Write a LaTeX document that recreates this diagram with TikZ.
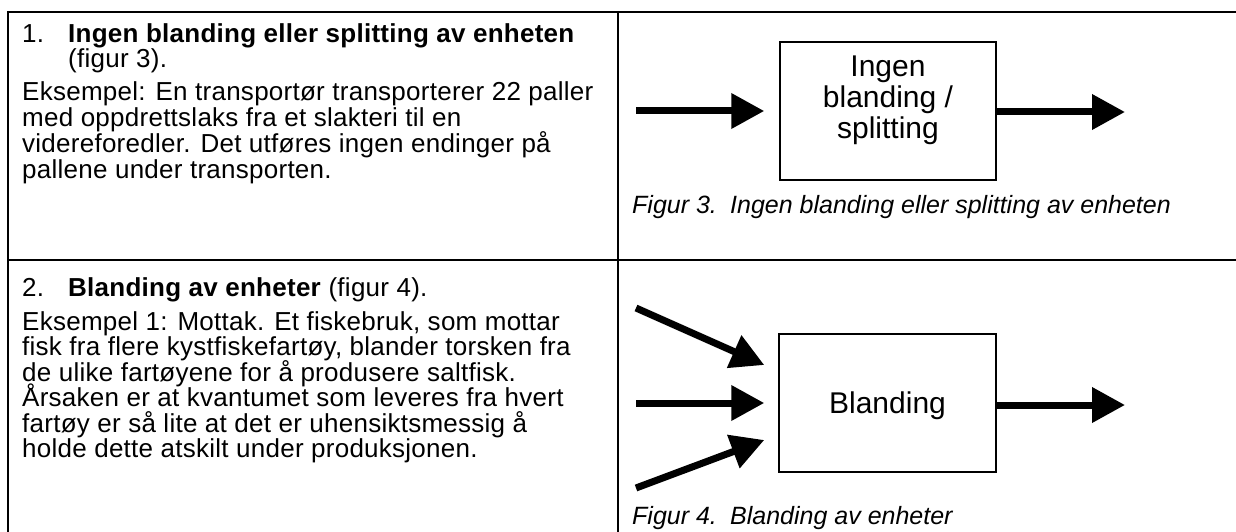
\documentclass[tikz,border=0pt]{standalone}
\usepackage{fontspec}
\setmainfont{Liberation Sans}
\newfontfamily\bodyfont[LetterSpace=1]{Liberation Sans}
\usetikzlibrary{arrows.meta}
\begin{document}
\begin{tikzpicture}[x=1pt,y=-1pt,
  rule/.style={line width=2pt},
  body/.style={anchor=base west, inner sep=0pt, font=\bodyfont\fontsize{26}{25.5}\selectfont},
  figcap/.style={anchor=base west, inner sep=0pt, font=\fontsize{25}{28}\selectfont\itshape},
  procbox/.style={draw, line width=1.5pt, minimum width=216pt, minimum height=138pt, inner sep=0pt},
  boxtext/.style={inner sep=0pt, align=center, font=\fontsize{30}{31}\selectfont},
  flow/.style={line width=7pt, -{Triangle[length=33pt,width=34pt]}}]
\useasboundingbox (0,0) rectangle (1236,532);
% table rules
\draw[rule] (7,12) -- (1236,12);
\draw[rule] (7,260) -- (1236,260);
\draw[rule] (8,11) -- (8,532);
\draw[rule] (618,11) -- (618,532);
% row 1 text
\node[body] (n1) at (22,42.5) {1.};
\node[body] (h1) at (68,42.5) {\bfseries Ingen blanding eller splitting av enheten};
\node[body] (h1b) at (68,68) {(figur 3).};
\node[body] (e1a) at (22,100.5) {Eksempel: En transportør transporterer 22 paller};
\node[body] (e1b) at (22,126.5) {med oppdrettslaks fra et slakteri til en};
\node[body] (e1c) at (22,152.5) {videreforedler. Det utføres ingen endinger på};
\node[body] (e1d) at (22,178.5) {pallene under transporten.};
% row 2 text
\node[body] (n2) at (22,296.5) {2.};
\node[body] (h2) at (68,296.5) {\textbf{Blanding av enheter} (figur 4).};
\node[body] (e2a) at (22,330) {Eksempel 1: Mottak. Et fiskebruk, som mottar};
\node[body] (e2b) at (22,355.5) {fisk fra flere kystfiskefartøy, blander torsken fra};
\node[body] (e2c) at (22,381) {de ulike fartøyene for å produsere saltfisk.};
\node[body] (e2d) at (22,406.5) {Årsaken er at kvantumet som leveres fra hvert};
\node[body] (e2e) at (22,432) {fartøy er så lite at det er uhensiktsmessig å};
\node[body] (e2f) at (22,457.5) {holde dette atskilt under produksjonen.};
% figure 3
\node[procbox] (box1) at (888,111) {};
\node[boxtext] (b1t) at (888,100) {Ingen\\blanding /\\splitting};
\coordinate (i1) at (636,111);
\coordinate (o1) at (1125,112);
\draw[flow, shorten >=15pt] (i1) -- (i1 -| box1.west);
\draw[flow] (box1.east |- o1) -- (o1);
\node[figcap] (c3a) at (632,213) {Figur 3.};
\node[figcap] (c3b) at (730,213) {Ingen blanding eller splitting av enheten};
% figure 4
\node[procbox, minimum width=217pt] (box2) at (887.5,403) {};
\node[boxtext] (b2t) at (887.5,406) {Blanding};
\coordinate (i2a) at (636,308);
\coordinate (i2b) at (636,403);
\coordinate (i2c) at (636,488);
\coordinate (o2) at (1125,405);
\draw[flow] (i2a) -- ([xshift=-14pt,yshift=38pt]box2.west);
\draw[flow, shorten >=14pt] (i2b) -- (i2b -| box2.west);
\draw[flow] (i2c) -- ([xshift=-14pt,yshift=-37pt]box2.west);
\draw[flow] (box2.east |- o2) -- (o2);
\node[figcap] (c4a) at (632,524) {Figur 4.};
\node[figcap] (c4b) at (730,524) {Blanding av enheter};
\end{tikzpicture}
\end{document}
